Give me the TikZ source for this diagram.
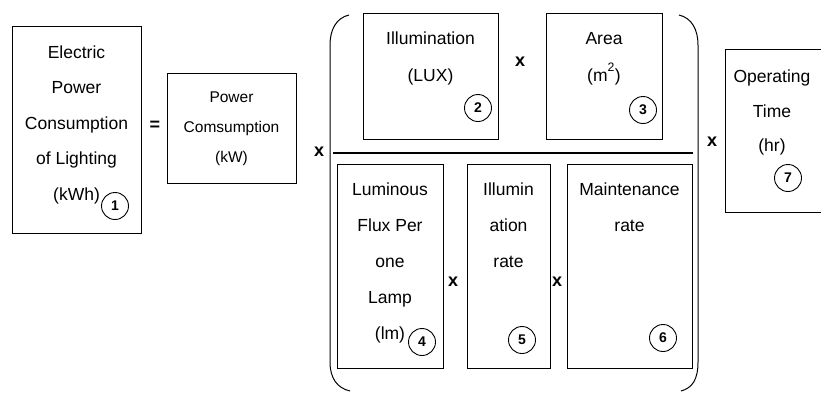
\documentclass[tikz,border=0pt]{standalone}
\usepackage{fontspec}
\setmainfont{Liberation Sans}
\begin{document}
\begin{tikzpicture}[x=1pt,y=-1pt,
  termbox/.style={draw=black, line width=0.9pt, inner sep=0pt},
  boxtext/.style={anchor=north, inner sep=0pt, align=center,
    font=\fontsize{17.5}{35.5}\selectfont},
  smalltext/.style={anchor=north, inner sep=0pt, align=center,
    font=\fontsize{15.5}{30}\selectfont},
  num/.style={draw=black, line width=0.9pt, circle, minimum size=27pt,
    inner sep=0pt, font=\fontsize{14}{14}\selectfont\bfseries},
  op/.style={inner sep=0pt, font=\fontsize{18}{18}\selectfont\bfseries},
  bracket/.style={line width=1pt}]
\useasboundingbox (0,0) rectangle (821,392);

% boxes of the formula
\draw[termbox] (12,26) rectangle (141,233);
\coordinate (b1) at (76.5,26);
\draw[termbox] (167,73) rectangle (296,183);
\coordinate (pc) at (231.5,73);
\draw[termbox] (363,13) rectangle (498,139);
\coordinate (b2) at (430.5,13);
\draw[termbox] (546,13) rectangle (662,139);
\coordinate (b3) at (604,13);
\draw[termbox] (337,164) rectangle (443,368);
\coordinate (b4) at (390,164);
\draw[termbox] (467,164) rectangle (550,368);
\coordinate (b5) at (508.5,164);
\draw[termbox] (567,164) rectangle (692,368);
\coordinate (b6) at (629.5,164);
\draw[termbox] (823,49) -- (725,49) -- (725,212) -- (823,212);
\coordinate (b7) at (772,49);

% texts
\node[boxtext] (t1) at ([yshift=-19.5]b1) {Electric\\Power\\Consumption\\of Lighting\\(kWh)};
\node[smalltext] (tpc) at ([yshift=-18.5]pc) {Power\\Comsumption\\(kW)};
\node[boxtext, font=\fontsize{17.5}{37}\selectfont] (t2) at ([yshift=-19]b2) {Illumination\\(LUX)};
\node[boxtext, font=\fontsize{17.5}{37}\selectfont] (t3) at ([yshift=-19]b3) {Area\\(m\raisebox{3pt}{\textsuperscript{2}})};
\node[boxtext, font=\fontsize{17.5}{36}\selectfont] (t4) at ([yshift=-19]b4) {Luminous\\Flux Per\\one\\Lamp\\(lm)};
\node[boxtext, font=\fontsize{17.5}{36}\selectfont] (t5) at ([yshift=-19]b5) {Illumin\\ation\\rate};
\node[boxtext, font=\fontsize{17.5}{36}\selectfont] (t6) at ([yshift=-19]b6) {Maintenance\\rate};
\node[boxtext, font=\fontsize{17.5}{34.5}\selectfont] (t7) at ([yshift=-21]b7) {Operating\\Time\\(hr)};

% numbered markers
\node[num] (n1) at (115,206) {1};
\node[num] (n2) at (478,108) {2};
\node[num] (n3) at (643,110) {3};
\node[num] (n4) at (422,342) {4};
\node[num] (n5) at (522,340) {5};
\node[num] (n6) at (663,338) {6};
\node[num] (n7) at (788,178) {7};

% operators
\node[op] (eq) at (155,126) {=};
\node[op] (x1) at (319,152) {x};
\node[op] (x2) at (520,62) {x};
\node[op] (x3) at (712,142) {x};
\node[op] (x4) at (453,282) {x};
\node[op] (x5) at (557,282) {x};

% fraction bar
\coordinate (fl) at (333,153);
\coordinate (fr) at (693,153);
\draw[line width=2pt] (fl) -- (fr);

% parentheses
\draw[bracket] (349,15) .. controls (336,18) and (330,30) .. (330,45)
  -- (330,362) .. controls (330,378) and (337,388) .. (350,391);
\draw[bracket] (679,15) .. controls (692,18) and (698,30) .. (698,45)
  -- (698,362) .. controls (698,380) and (692,388) .. (681,391);
\end{tikzpicture}
\end{document}
